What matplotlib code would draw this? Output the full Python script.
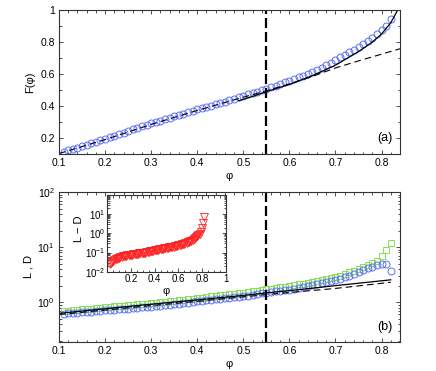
import numpy as np
import matplotlib
matplotlib.use("Agg")
import matplotlib.pyplot as plt
from matplotlib.ticker import MultipleLocator, LogLocator, NullFormatter

plt.rcParams['font.family'] = ['Liberation Sans', 'DejaVu Sans']
plt.rcParams['font.size'] = 7.5
plt.rcParams['mathtext.fontset'] = 'custom'
plt.rcParams['mathtext.rm'] = 'Liberation Sans'

# ---- data ----
phi = np.round(np.arange(0.11, 0.825, 0.01), 2)

F_data = [0.114, 0.122, 0.131, 0.140, 0.149, 0.158, 0.167, 0.176, 0.185, 0.194,
          0.204, 0.214, 0.224, 0.234, 0.244, 0.254, 0.263, 0.273, 0.282, 0.292,
          0.301, 0.309, 0.318, 0.327, 0.335, 0.344, 0.353, 0.361, 0.370, 0.379,
          0.387, 0.395, 0.403, 0.411, 0.420, 0.428, 0.437, 0.445, 0.454, 0.463,
          0.472, 0.481, 0.490, 0.499, 0.508, 0.517, 0.527, 0.537, 0.547, 0.558,
          0.568, 0.579, 0.590, 0.602, 0.614, 0.627, 0.640, 0.654, 0.671, 0.688,
          0.705, 0.720, 0.736, 0.752, 0.769, 0.787, 0.806, 0.826, 0.848, 0.873,
          0.903, 0.944]

F_fit_phi = [0.49, 0.52, 0.55, 0.60, 0.65, 0.70, 0.75, 0.78, 0.80, 0.82, 0.835]
F_fit = [0.433, 0.46, 0.49, 0.535, 0.59, 0.655, 0.74, 0.80, 0.85, 0.92, 1.0]

F_lin_phi = [0.10, 0.20, 0.30, 0.40, 0.50, 0.55, 0.60, 0.65, 0.70, 0.75, 0.80, 0.84]
F_lin = [0.103, 0.19, 0.285, 0.372, 0.455, 0.495, 0.538, 0.585, 0.638, 0.682, 0.724, 0.758]

L_data = [0.690, 0.702, 0.714, 0.727, 0.740, 0.753, 0.767, 0.781, 0.795, 0.810,
          0.824, 0.838, 0.853, 0.868, 0.883, 0.898, 0.914, 0.930, 0.946, 0.962,
          0.983, 1.004, 1.025, 1.047, 1.069, 1.092, 1.115, 1.139, 1.164, 1.190,
          1.216, 1.243, 1.271, 1.299, 1.328, 1.358, 1.389, 1.421, 1.454, 1.490,
          1.533, 1.577, 1.623, 1.670, 1.720, 1.762, 1.806, 1.852, 1.900, 1.950,
          2.02, 2.10, 2.18, 2.26, 2.35, 2.43, 2.52, 2.61, 2.70, 2.82,
          3.0, 3.23, 3.47, 3.72, 3.98, 4.27, 4.65, 5.1, 5.65, 7.0,
          8.7, 11.8]

D_data = [0.615, 0.625, 0.635, 0.645, 0.655, 0.665, 0.676, 0.687, 0.698, 0.710,
          0.721, 0.733, 0.745, 0.757, 0.769, 0.782, 0.795, 0.808, 0.821, 0.835,
          0.852, 0.870, 0.888, 0.907, 0.926, 0.946, 0.966, 0.987, 1.013, 1.040,
          1.062, 1.085, 1.108, 1.132, 1.156, 1.181, 1.206, 1.232, 1.256, 1.280,
          1.320, 1.362, 1.405, 1.450, 1.500, 1.536, 1.574, 1.614, 1.656, 1.700,
          1.76, 1.82, 1.89, 1.96, 2.05, 2.13, 2.21, 2.30, 2.40, 2.50,
          2.65, 2.85, 3.05, 3.28, 3.52, 3.82, 4.12, 4.42, 4.68, 4.95,
          4.85, 3.66]

LD_fit_phi = [0.10, 0.20, 0.30, 0.40, 0.50, 0.55, 0.60, 0.70, 0.82]
L_fit = [0.63, 0.76, 0.92, 1.10, 1.33, 1.48, 1.62, 2.00, 2.55]
D_fit = [0.60, 0.72, 0.87, 1.04, 1.25, 1.38, 1.50, 1.78, 2.30]

phi_in = np.round(np.arange(0.02, 0.825, 0.01), 2)
LmD = [0.025, 0.029, 0.033, 0.037, 0.040, 0.044, 0.047, 0.050, 0.053,
       0.056, 0.059, 0.062, 0.064, 0.066, 0.068, 0.070, 0.072, 0.073, 0.075,
       0.077, 0.079, 0.081, 0.083, 0.085, 0.087, 0.089, 0.091, 0.093, 0.096,
       0.098, 0.100, 0.103, 0.106, 0.109, 0.113, 0.117, 0.121, 0.125, 0.129,
       0.133, 0.137, 0.141, 0.145, 0.150, 0.154, 0.158, 0.163, 0.168, 0.173,
       0.178, 0.183, 0.188, 0.193, 0.199, 0.205, 0.211, 0.218, 0.226, 0.235,
       0.245, 0.256, 0.268, 0.281, 0.295, 0.310, 0.327, 0.345, 0.366, 0.390,
       0.42, 0.46, 0.51, 0.57, 0.63, 0.70, 0.80, 0.95, 1.2, 1.9,
       3.4, 7.0]

phi_c = 0.55
blue = '#5b6ef5'
green = '#84e052'
red = '#ff2020'


def style(ax, size=7.5, pad=3):
    ax.tick_params(which='both', direction='in', top=True, right=True,
                   labelsize=size, width=0.6, color='#333333', pad=pad)
    ax.tick_params(which='major', length=3)
    ax.tick_params(which='minor', length=1.8)
    for s in ax.spines.values():
        s.set_linewidth(0.8)
        s.set_color('#333333')


fig = plt.figure(figsize=(4.36, 3.71), dpi=100)

# ---- panel (a) ----
ax1 = fig.add_axes([0.1353, 0.5849, 0.7821, 0.3881])
ax1.plot(phi, F_data, 'o', mfc='none', mec=blue, ms=5.0, mew=0.7)
ax1.plot(F_lin_phi, F_lin, color='k', lw=0.8, ls=(0, (6, 3.6)))
ax1.plot(F_fit_phi, F_fit, color='k', lw=0.9)
ax1.axvline(phi_c, color='k', lw=1.6, ls=(0, (4.5, 1.8)))
ax1.set_xlim(0.1, 0.84)
ax1.set_ylim(0.1, 1.0)
ax1.xaxis.set_major_locator(MultipleLocator(0.1))
ax1.xaxis.set_minor_locator(MultipleLocator(0.02))
ax1.yaxis.set_minor_locator(MultipleLocator(0.1))
ax1.set_yticks([0.2, 0.4, 0.6, 0.8, 1.0])
ax1.set_yticklabels(['0.2', '0.4', '0.6', '0.8', '1'])
ax1.set_xlabel('φ', fontsize=8, labelpad=2)
ax1.set_ylabel('F(φ)', fontsize=8, labelpad=4)
ax1.text(0.956, 0.11, '(a)', transform=ax1.transAxes, fontsize=9,
         ha='center', va='center')
style(ax1)

# ---- panel (b) ----
ax2 = fig.add_axes([0.1353, 0.0782, 0.7821, 0.4043])
ax2.set_yscale('log')
ax2.plot(phi, L_data, 's', mfc='none', mec=green, ms=4.6, mew=0.7)
ax2.plot(phi, D_data, 'o', mfc='none', mec=blue, ms=5.0, mew=0.7)
ax2.plot(LD_fit_phi, L_fit, color='k', lw=0.9)
ax2.plot(LD_fit_phi, D_fit, color='k', lw=0.8, ls=(0, (6, 3.6)))
ax2.axvline(phi_c, color='k', lw=1.6, ls=(0, (4.5, 1.8)))
ax2.set_xlim(0.1, 0.84)
ax2.set_ylim(0.19, 100)
ax2.xaxis.set_major_locator(MultipleLocator(0.1))
ax2.xaxis.set_minor_locator(MultipleLocator(0.02))
ax2.yaxis.set_major_locator(LogLocator(base=10, numticks=10))
ax2.yaxis.set_minor_locator(LogLocator(base=10, subs=np.arange(2, 10), numticks=10))
ax2.yaxis.set_minor_formatter(NullFormatter())
ax2.set_xlabel('φ', fontsize=8, labelpad=2)
ax2.set_ylabel('L , D', fontsize=8, labelpad=3)
ax2.text(0.956, 0.10, '(b)', transform=ax2.transAxes, fontsize=9,
         ha='center', va='center')
style(ax2)

# ---- inset ----
ax3 = fig.add_axes([0.2461, 0.2677, 0.2716, 0.2067])
ax3.set_yscale('log')
ax3.plot(phi_in, LmD, 'v', mfc='none', mec=red, ms=5.5, mew=0.6)
ax3.set_xlim(0.0, 1.0)
ax3.set_ylim(0.01, 100)
ax3.set_xticks([0.2, 0.4, 0.6, 0.8, 1.0])
ax3.set_xticklabels(['0.2', '0.4', '0.6', '0.8', '1'])
ax3.xaxis.set_minor_locator(MultipleLocator(0.05))
ax3.set_yticks([0.01, 0.1, 1, 10])
ax3.yaxis.set_minor_locator(LogLocator(base=10, subs=np.arange(2, 10), numticks=10))
ax3.yaxis.set_minor_formatter(NullFormatter())
ax3.set_xlabel('φ', fontsize=8, labelpad=1.5)
ax3.set_ylabel('L − D', fontsize=8)
style(ax3, size=7, pad=1.5)
ax3.yaxis.set_label_coords(-0.2, 0.56)

fig.savefig('out.png', dpi=100)
